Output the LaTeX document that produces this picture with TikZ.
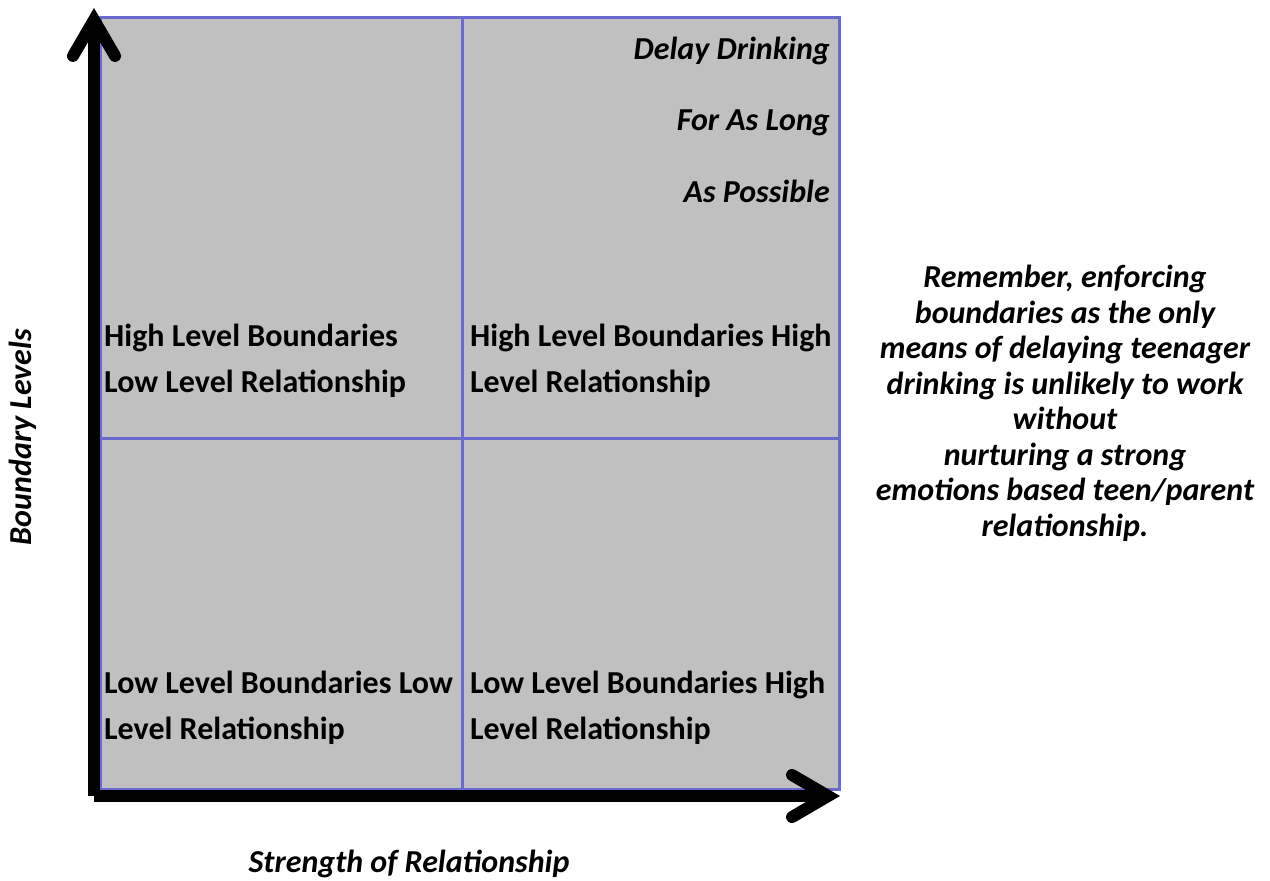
\documentclass[tikz,border=0pt]{standalone}
\usepackage{fontspec}
\setmainfont{Carlito}
\usetikzlibrary{positioning, arrows.meta}

\definecolor{gridblue}{RGB}{107,107,207}
\definecolor{cellgray}{RGB}{192,192,192}

\begin{document}
\begin{tikzpicture}[x=1pt, y=-1pt,
cell/.style={anchor=base west, inner sep=0pt, align=left, font=\bfseries\fontsize{32}{46}\selectfont},
goal/.style={anchor=base east, inner sep=0pt, align=right, font=\bfseries\itshape\fontsize{32}{71.5}\selectfont},
note/.style={anchor=base, inner sep=0pt, align=center, font=\bfseries\itshape\fontsize{32}{35.5}\selectfont},
label/.style={inner sep=0pt, font=\bfseries\itshape\fontsize{32}{35}\selectfont},
axis/.style={line width=12pt, -{Straight Barb[length=36pt, width=42pt, line cap=round]}}]
\useasboundingbox (0,0) rectangle (1270,881);
% quadrants
\draw[gridblue, line width=3pt, fill=cellgray] (100,17) rectangle (839,789);
\draw[gridblue, line width=3pt] (462,17) -- (462,789);
\draw[gridblue, line width=3pt] (100,438) -- (839,438);
% axes
\coordinate (origin) at (94,796);
\coordinate (ytop) at (94,8);
\coordinate (xend) at (840,796);
\draw[axis] (origin) -- (ytop);
\draw[axis] (origin) -- (xend);
% texts (anchored at the last line)
\node (HL) [cell] at (104,392) {High Level Boundaries\\Low Level Relationship};
\node (HH) [cell] at (470,392) {High Level Boundaries High\\Level Relationship};
\node (LL) [cell] at (104,739) {Low Level Boundaries Low\\Level Relationship};
\node (LH) [cell] at (470,739) {Low Level Boundaries High\\Level Relationship};
\node (goal) [goal] at (830,202) {Delay Drinking\\For As Long\\As Possible};
\node (remember) [note] at (1065,536) {Remember, enforcing\\boundaries as the only\\means of delaying teenager\\drinking is unlikely to work\\without\\nurturing a strong\\emotions based teen/parent\\relationship.};
\node (xlabel) [label] at (409,864) {Strength of Relationship};
\node (ylabel) [label, rotate=90] at (23,437) {Boundary Levels};
\end{tikzpicture}
\end{document}
